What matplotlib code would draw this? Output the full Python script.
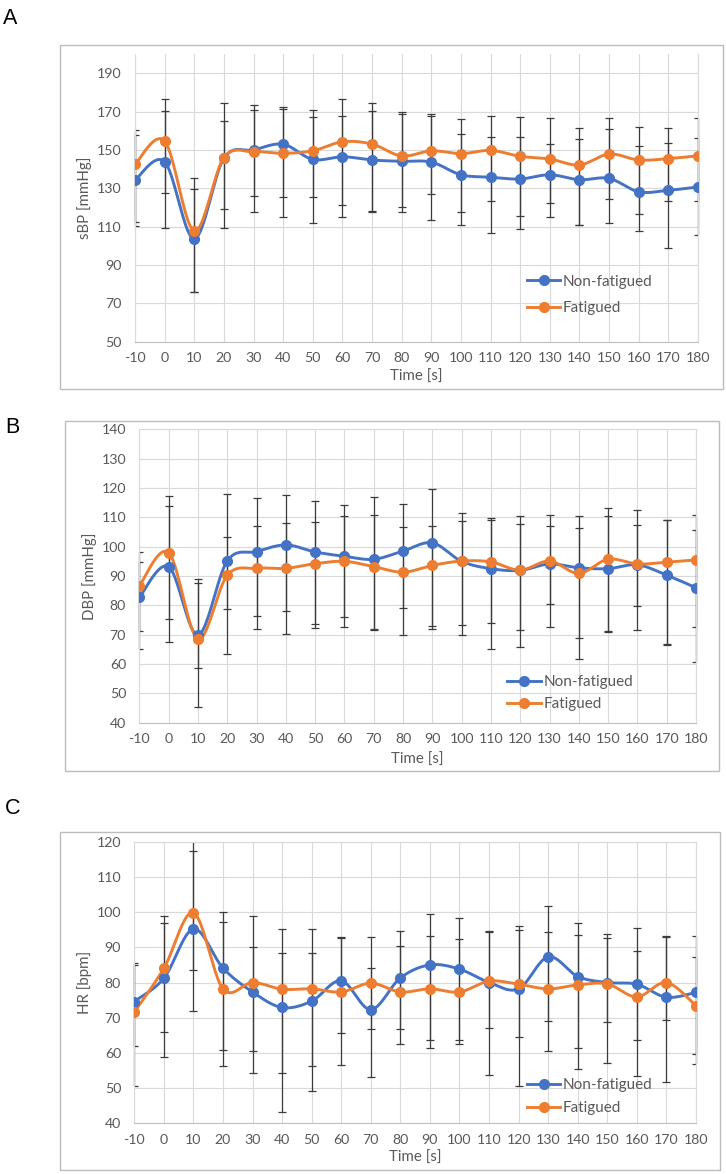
import numpy as np
import matplotlib
matplotlib.use("Agg")
import matplotlib.pyplot as plt
from matplotlib.lines import Line2D
from matplotlib.patches import Rectangle

# ---------------- data ----------------
time = [-10, 0, 10, 20, 30, 40, 50, 60, 70, 80, 90, 100, 110, 120, 130, 140, 150, 160, 170, 180]
series_names = ["Non-fatigued", "Fatigued"]

# Panel A: systolic BP
sbp_nf = [134.3, 143.9, 103.7, 145.7, 150.0, 153.0, 145.1, 146.5, 144.8, 144.1, 143.7, 137.1, 135.8, 134.9, 137.1, 134.5, 135.2, 128.2, 129.0, 130.7]
sbp_f = [142.5, 154.7, 107.8, 146.0, 149.1, 148.3, 149.6, 154.3, 153.1, 146.9, 149.6, 148.1, 149.8, 146.7, 145.3, 142.2, 147.9, 144.8, 145.5, 147.0]
sbp_nf_hi = [157.8, 170.3, 129.7, 165.1, 170.9, 171.6, 167.4, 168.0, 170.3, 169.0, 167.6, 158.2, 156.6, 157.0, 153.3, 155.9, 161.0, 152.3, 153.8, 156.1]
sbp_nf_lo = [110.5, 109.3, 75.9, 109.3, 117.5, 114.9, 112.1, 115.2, 117.7, 117.7, 113.7, 110.9, 106.5, 108.6, 114.9, 110.7, 112.1, 107.6, 99.0, 105.7]
sbp_f_hi = [160.4, 176.4, 135.2, 174.3, 173.5, 172.3, 170.7, 176.4, 174.3, 169.7, 168.8, 166.0, 167.9, 167.0, 166.9, 161.5, 166.5, 162.0, 161.3, 166.5]
sbp_f_lo = [112.6, 127.7, 76.0, 119.2, 126.0, 125.7, 125.3, 121.1, 118.3, 120.1, 126.9, 117.7, 123.6, 115.6, 122.2, 111.0, 124.4, 116.6, 123.6, 123.6]

# Panel B: diastolic BP
dbp_nf = [82.7, 93.2, 69.9, 95.1, 98.3, 100.6, 98.2, 96.7, 95.7, 98.5, 101.3, 95.0, 92.5, 91.9, 94.1, 92.8, 92.5, 93.8, 90.3, 86.0]
dbp_f = [86.6, 98.0, 68.6, 90.2, 92.6, 92.6, 94.2, 95.0, 93.2, 91.3, 93.6, 95.1, 94.8, 92.0, 95.1, 90.9, 95.7, 94.1, 94.7, 95.5]
dbp_nf_hi = [98.3, 117.2, 89.0, 117.8, 116.5, 117.7, 115.7, 114.3, 116.8, 114.5, 119.8, 111.6, 109.9, 110.5, 110.7, 110.6, 113.2, 112.5, 109.2, 110.8]
dbp_nf_lo = [65.1, 67.5, 45.5, 63.3, 71.9, 70.3, 72.3, 72.7, 71.6, 69.9, 71.9, 69.8, 65.1, 65.9, 72.7, 61.7, 70.9, 71.6, 66.6, 60.6]
dbp_f_hi = [94.9, 113.8, 87.5, 103.2, 106.9, 108.1, 108.4, 110.5, 110.7, 106.8, 107.0, 108.8, 109.1, 107.7, 107.2, 106.4, 110.3, 107.3, 109.1, 105.7]
dbp_f_lo = [71.4, 75.5, 58.6, 78.8, 76.4, 78.1, 73.5, 76.1, 71.8, 79.0, 73.0, 73.2, 74.1, 71.6, 80.3, 68.9, 71.1, 79.7, 66.7, 72.5]

# Panel C: heart rate
hr_nf = [74.6, 81.2, 95.2, 84.1, 77.3, 72.9, 74.7, 80.5, 72.3, 81.3, 85.0, 83.8, 80.0, 78.2, 87.3, 81.7, 80.0, 79.5, 75.8, 77.2]
hr_f = [71.6, 84.0, 99.8, 78.2, 80.0, 78.1, 78.2, 77.3, 79.8, 77.3, 78.2, 77.3, 80.4, 79.5, 78.2, 79.3, 79.6, 75.9, 80.0, 73.4]
hr_nf_hi = [85.4, 99.0, 117.3, 100.1, 98.9, 95.2, 95.1, 92.9, 92.9, 94.5, 99.4, 98.3, 94.7, 96.1, 101.6, 97.0, 93.9, 95.4, 93.2, 93.1]
hr_nf_lo = [62.0, 65.8, 71.8, 60.8, 60.6, 54.4, 56.3, 65.6, 66.7, 66.9, 63.7, 63.7, 67.0, 64.6, 69.1, 61.4, 68.9, 63.7, 69.3, 59.7]
hr_f_hi = [85.0, 96.8, 124.0, 97.3, 90.2, 88.3, 88.5, 92.6, 84.0, 90.4, 93.2, 92.3, 94.4, 94.8, 94.4, 93.4, 92.7, 88.9, 93.0, 87.3]
hr_f_lo = [50.7, 58.8, 83.5, 56.3, 54.4, 43.2, 49.1, 56.7, 53.1, 62.4, 61.5, 62.5, 53.6, 50.6, 60.4, 55.5, 57.2, 53.3, 51.6, 56.9]

# ---------------- style ----------------
W, H = 726, 1174
BLUE = "#4472C4"
ORANGE = "#ED7D31"
ERR = "#3c3c3c"
GRID = "#d9d9d9"
TXT = "#595959"
FONT = ["Lato", "DejaVu Sans"]
plt.rcParams["font.family"] = FONT
TICK_FS = 10.2
LAB_FS = 10.8
LEG_FS = 11

fig = plt.figure(figsize=(W / 100, H / 100), dpi=100)


def fx(px):
    return px / W


def fy(py):
    return 1 - py / H


def smooth(x, y, n=24):
    x = np.asarray(x, float)
    y = np.asarray(y, float)
    P = np.column_stack([x, y])
    Pp = np.vstack([P[0], P, P[-1]])
    out = []
    t = np.linspace(0, 1, n)
    for i in range(len(P) - 1):
        p0, p1, p2, p3 = Pp[i], Pp[i + 1], Pp[i + 2], Pp[i + 3]
        b1 = p1 + (p2 - p0) / 6
        b2 = p2 - (p3 - p1) / 6
        seg = ((1 - t) ** 3)[:, None] * p1 + (3 * (1 - t) ** 2 * t)[:, None] * b1 \
            + (3 * (1 - t) * t ** 2)[:, None] * b2 + (t ** 3)[:, None] * p2
        out.append(seg if i == 0 else seg[1:])
    S = np.vstack(out)
    return S[:, 0], S[:, 1]


panels = [
    dict(letter="A", letter_xy=(3, 8), frame=(60, 45, 723, 389),
         ax=(135, 54.2, 698, 341.7), ylim=(50, 200), yticks=list(range(50, 200, 20)),
         ylabel="sBP [mmHg]", ylabel_x=85, xlabel_y=376.7, top_spine=False,
         nf=sbp_nf, f=sbp_f, nf_hi=sbp_nf_hi, nf_lo=sbp_nf_lo, f_hi=sbp_f_hi, f_lo=sbp_f_lo,
         leg=(526.7, 295), legspace=0.85),
    dict(letter="B", letter_xy=(5, 417), frame=(65, 420.7, 719, 771),
         ax=(139.3, 429.3, 696, 722.7), ylim=(40, 140), yticks=list(range(40, 141, 10)),
         ylabel="DBP [mmHg]", ylabel_x=89.3, xlabel_y=760, top_spine=True,
         nf=dbp_nf, f=dbp_f, nf_hi=dbp_nf_hi, nf_lo=dbp_nf_lo, f_hi=dbp_f_hi, f_lo=dbp_f_lo,
         leg=(507.3, 693.3), legspace=0.5),
    dict(letter="C", letter_xy=(5, 798), frame=(60, 832.3, 720, 1170),
         ax=(134.3, 841.7, 696, 1123.3), ylim=(40, 120), yticks=list(range(40, 121, 10)),
         ylabel="HR [bpm]", ylabel_x=85, xlabel_y=1158.3, top_spine=True,
         nf=hr_nf, f=hr_f, nf_hi=hr_nf_hi, nf_lo=hr_nf_lo, f_hi=hr_f_hi, f_lo=hr_f_lo,
         leg=(526.7, 1096.7), legspace=0.6),
]

for p in panels:
    x0, y0, x1, y1 = p["frame"]
    fig.patches.append(Rectangle((fx(x0), fy(y1)), fx(x1) - fx(x0), fy(y0) - fy(y1),
                                 transform=fig.transFigure, fill=False,
                                 edgecolor="#bcbcbc", lw=1.0))
    fig.text(fx(p["letter_xy"][0]), fy(p["letter_xy"][1]), p["letter"],
             family=["Liberation Sans", "DejaVu Sans"], fontsize=15.5,
             ha="left", va="top", color="black")

    ax0, ay0, ax1, ay1 = p["ax"]
    ax = fig.add_axes([fx(ax0), fy(ay1), fx(ax1) - fx(ax0), fy(ay0) - fy(ay1)])
    ax.set_xlim(time[0], time[-1])
    ax.set_ylim(*p["ylim"])
    ax.set_xticks(time)
    ax.set_xticklabels([str(t) for t in time])
    ax.set_yticks(p["yticks"])
    ax.tick_params(length=0, labelsize=TICK_FS, labelcolor=TXT)
    ax.tick_params(axis="y", pad=9.5)
    ax.tick_params(axis="x", pad=7.5)
    ax.grid(True, color=GRID, lw=0.8)
    ax.set_axisbelow(True)
    for side in ["left", "right", "top"]:
        ax.spines[side].set_color(GRID)
        ax.spines[side].set_linewidth(0.8)
    ax.spines["top"].set_visible(p["top_spine"])
    ax.spines["bottom"].set_color("#bfbfbf")
    ax.spines["bottom"].set_linewidth(0.8)

    wide_clip = Rectangle((-0.01, 0), 1.02, 1, transform=ax.transAxes,
                          facecolor="none", edgecolor="none")
    for key, col in (("nf", BLUE), ("f", ORANGE)):
        m = np.asarray(p[key])
        hi = np.asarray(p[key + "_hi"])
        lo = np.asarray(p[key + "_lo"])
        eb = ax.errorbar(time, m, yerr=[m - lo, hi - m], fmt="none", ecolor=ERR,
                         elinewidth=0.9, capsize=2.6, capthick=0.9, zorder=2)
        for coll in eb[2]:
            coll.set_clip_path(wide_clip)
    for key, col in (("nf", BLUE), ("f", ORANGE)):
        sx, sy = smooth(time, p[key])
        ax.plot(sx, sy, color=col, lw=2.1, zorder=3, solid_capstyle="round")
        ax.plot(time, p[key], "o", color=col, ms=7, zorder=4)

    fig.text(fx(p["ylabel_x"]), fy((ay0 + ay1) / 2), p["ylabel"], rotation=90,
             ha="center", va="center", fontsize=LAB_FS, color=TXT)
    fig.text(fx((ax0 + ax1) / 2), fy(p["xlabel_y"]), "Time [s]",
             ha="center", va="center", fontsize=LAB_FS, color=TXT)

    handles = [Line2D([], [], color=BLUE, lw=2.1, marker="o", ms=7),
               Line2D([], [], color=ORANGE, lw=2.1, marker="o", ms=7)]
    ax.legend(handles, series_names, loc="center left",
              bbox_to_anchor=(fx(p["leg"][0]), fy(p["leg"][1])),
              bbox_transform=fig.transFigure, frameon=False, fontsize=LEG_FS,
              labelcolor=TXT, handlelength=2.2, handletextpad=0.15,
              borderpad=0, borderaxespad=0, labelspacing=p["legspace"])

fig.savefig("out.png", dpi=100, facecolor="white")
